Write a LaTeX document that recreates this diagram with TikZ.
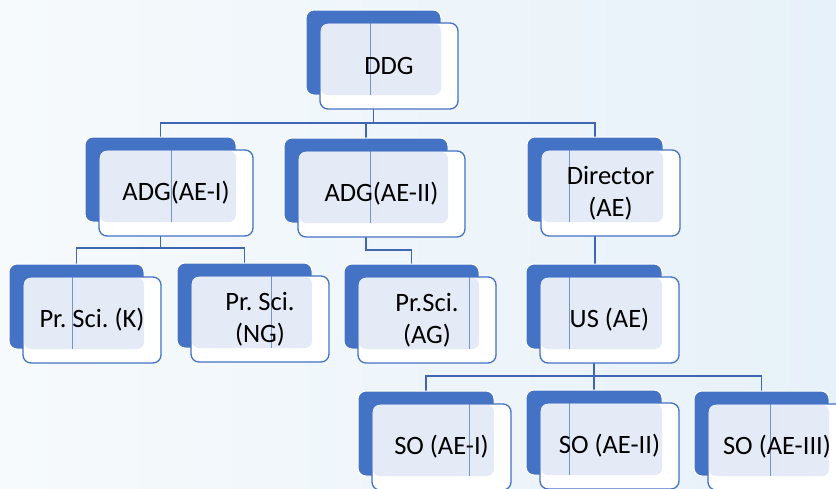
\documentclass[tikz,border=0pt]{standalone}
\usepackage{fontspec}
\setmainfont{Carlito}
\usetikzlibrary{calc}
\pgfdeclarelayer{bg}
\pgfsetlayers{bg,main}
\definecolor{accent}{RGB}{68,114,196}
\definecolor{connc}{RGB}{62,102,178}
\definecolor{pattc}{RGB}{228,234,246}
\definecolor{bgl}{RGB}{246,250,252}
\definecolor{bgr}{RGB}{231,241,249}
\tikzset{
  backbox/.style={draw=white, line width=1pt, fill=accent, rounded corners=8pt,
    minimum height=85, inner sep=0pt, outer sep=0pt, anchor=north west},
  frontbox/.style={draw=accent, line width=1.3pt, fill=white, rounded corners=8pt,
    minimum height=86, inner sep=0pt, outer sep=0pt, anchor=north west},
  pattfill/.style={fill=pattc, rounded corners=7pt},
  vline/.style={draw=accent, line width=0.7pt, opacity=0.7},
  lbl/.style={font=\fontsize{26.5}{32}\selectfont\frenchspacing, align=center, text=black, inner sep=0pt},
  connector/.style={draw=connc, line width=1.6pt}
}
% name, x, y, back width, vline x, text
\newcommand\orgbox[6]{%
  \node[backbox, minimum width={#4}] (#1) at (#2,#3) {};
  \node[frontbox, minimum width={#4+3}] (#1f) at (#2+14,#3+13) {};
  \fill[pattfill] ($(#1f.north west)+(0.8,0.8)$) rectangle (#1.south east);
  \draw[vline] (#5,#3+13) -- (#5,#3+85);
  \node[lbl] (#1t) at (#1f.center) {#6};
}
\begin{document}
\frenchspacing
\begin{tikzpicture}[x=1pt,y=-1pt]
\useasboundingbox (0,0) rectangle (836,488);
\orgbox{ddg}{306}{10}{135}{370}{DDG}
\orgbox{adga}{85}{137}{151}{171}{ADG(AE-I)}
\orgbox{adgb}{284}{138}{164}{370}{ADG(AE-II)}
\orgbox{dir}{527}{137}{136}{569}{Director\\(AE)}
\orgbox{psk}{9}{264}{135}{72}{Pr. Sci. (K)}
\orgbox{psng}{177}{263}{135}{271}{Pr. Sci.\\(NG)}
\orgbox{psag}{344}{264}{135}{469}{Pr.Sci.\\(AG)}
\orgbox{us}{526}{264}{136}{569}{US (AE)}
\orgbox{soa}{358}{391}{136}{469}{SO (AE-I)}
\orgbox{sob}{526}{390}{136}{569}{SO (AE-II)}
\orgbox{soc}{694}{391}{135}{770}{SO (AE-III)}
\coordinate (r1) at (0,123);
\coordinate (r2) at (0,248);
\coordinate (r3) at (0,250);
\coordinate (r4) at (0,376);
\begin{pgfonlayer}{bg}
  \shade[left color=bgl, right color=bgr] (0,0) rectangle (836,488);
  \draw[connector] (ddg.south) -- (ddg.south |- r1);
  \draw[connector] (adga.north) |- (dir.north |- r1) -- (dir.north);
  \draw[connector] (adgb.north) -- (adgb.north |- r1);
  \draw[connector] (adga.south) -- (adga.south |- r2);
  \draw[connector] (psk.north) |- (psng.north |- r2) -- (psng.north);
  \draw[connector] (adgb.south) |- (psag.north |- r3) -- (psag.north);
  \draw[connector] (dir.south) -- (dir.south |- us.north);
  \draw[connector] (us.south) -- (us.south |- r4);
  \draw[connector] (soa.north) |- (soc.north |- r4) -- (soc.north);
  \draw[connector] (sob.north) -- (sob.north |- r4);
\end{pgfonlayer}
\end{tikzpicture}
\end{document}
